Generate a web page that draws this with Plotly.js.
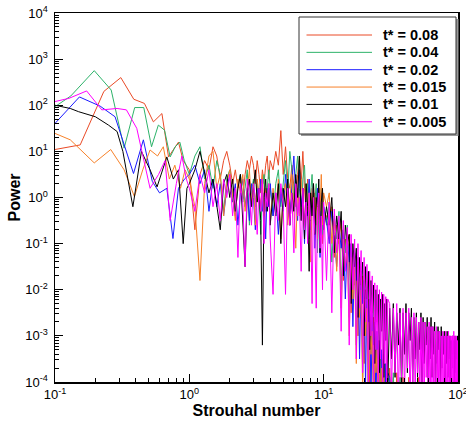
<!DOCTYPE html>
<html><head><meta charset="utf-8">
<script src="https://cdn.plot.ly/plotly-3.0.1.min.js"></script>
<style>html,body{margin:0;padding:0;background:#fff}#chart{width:466px;height:421px}</style>
</head><body><div id="chart"></div>
<script>
// ---- labels / colours ----
const seriesLabels = ["t* = 0.08", "t* = 0.04", "t* = 0.02", "t* = 0.015", "t* = 0.01", "t* = 0.005"];
const seriesColors = ["#ea4a26", "#2db36a", "#1a1aff", "#f7822a", "#000000", "#ff00ff"];
const xTickVals = [0.1, 1, 10, 100];
const xTickText = ["10<sup>-1</sup>", "10<sup>0</sup>", "10<sup>1</sup>", "10<sup>2</sup>"];
const yTickVals = [1e-4, 1e-3, 1e-2, 1e-1, 1, 10, 100, 1000, 10000];
const yTickText = ["10<sup>-4</sup>", "10<sup>-3</sup>", "10<sup>-2</sup>", "10<sup>-1</sup>", "10<sup>0</sup>", "10<sup>1</sup>", "10<sup>2</sup>", "10<sup>3</sup>", "10<sup>4</sup>"];

// ---- low-frequency part (Strouhal < 1), per series; power as log10 ----
const lowF_008 = [0.077,0.154,0.231,0.309,0.386,0.463,0.54,0.625,0.70,0.83,0.9];
const lowLogP_008 = [0.98,1.14,2.3,2.6,2.13,2.04,1.64,1.82,0.88,1.2,0.8];
const lowF_004 = [0.065,0.131,0.196,0.262,0.327,0.392,0.458,0.523,0.588,0.654,0.72,0.785,0.85,0.915];
const lowLogP_004 = [1.6,2.2,2.75,2.33,1.07,1.95,1.95,1.1,1.57,1.46,0.88,1.1,1.2,0.81];
const lowF_002 = [0.076,0.152,0.217,0.28,0.384,0.455,0.53,0.6,0.68,0.755,0.83,0.92];
const lowLogP_002 = [1.23,2.18,1.98,1.75,0.52,1.25,0.35,0.1,0.2,-0.89,0.2,0.4];
const lowF_0015 = [0.065,0.13,0.196,0.26,0.327,0.39,0.45,0.51,0.58,0.64,0.71,0.78,0.86,0.93];
const lowLogP_0015 = [1.62,1.25,0.75,1.04,0.6,0.02,0.6,1.03,0.9,1.1,0.4,0.7,0.2,0.6];
const lowF_001 = [0.1,0.13,0.15,0.2,0.25,0.29,0.32,0.38,0.44,0.51,0.575,0.68,0.76,0.83,0.9,0.96];
const lowLogP_001 = [2.0,1.93,1.86,1.75,1.57,1.43,1.0,-0.2,1.0,0.6,0.23,0.88,0.4,0.6,-1.0,0.2];
const lowF_0005 = [0.1,0.127,0.172,0.223,0.29,0.34,0.406,0.51,0.59,0.66,0.72,0.8,0.88,0.95];
const lowLogP_0005 = [2.08,2.15,2.31,1.9,1.93,1.9,1.5,0.2,0.5,0.8,-0.5,0.3,0.9,0.4];

// ---- shared frequency list for Strouhal >= 1 ----
const highF = [
1,1.1,1.2,1.3,1.4,1.5,1.6,1.7,1.8,1.9,2,2.1,2.2,2.3,2.4,2.5,2.6,2.7,2.8,2.9,3,3.1,3.2,3.3,3.4,3.5,3.6,3.7,3.8,3.9,4,
4.2,4.4,4.6,4.8,5,5.2,5.4,5.6,5.8,6,6.2,6.4,6.6,6.8,7,7.2,7.4,7.6,7.8,8,8.2,8.4,8.6,8.8,9,9.2,9.4,9.6,9.8,10,
10.5,11,11.5,12,12.5,13,13.5,14,14.5,15,15.5,16,16.5,17,17.5,18,18.5,19,19.5,20,20.5,21,21.5,22,22.5,23,23.5,24,24.5,25,25.5,26,26.5,27,27.5,28,28.5,29,29.5,30,
31,32,33,34,35,36,37,38,39,40,41,42,43,44,45,46,47,48,49,50,51,52,53,54,55,56,57,58,59,60,61,62,63,64,65,66,67,68,69,70,
71,72,73,74,75,76,77,78,79,80,81,82,83,84,85,86,87,88,89,90,91,92,93,94,95,96,97,98,99,100];

const highLogP_008 = [
0.6,-0.7,0.5,0.8,0.6,1.1,0.9,0.4,0.8,1.0, 0.7,0.3,0.6,0.2,0.5,0.0,0.5,0.8,0.6,0.9, 0.7,0.3,0.8,0.5,0.1,0.6,0.3,0.7,0.9,0.4, 0.8,
0.6,1.0,0.7,1.45,0.5,1.1,0.4,0.2,0.7,0.3, -0.2,0.5,0.9,0.3,1.0,0.2,-0.3,0.4,0.0,-0.5, 0.2,-0.4,0.1,-0.6,-0.1,0.2,-0.7,-0.2,-1.0,-0.3,
-0.4,-0.9,-0.2,-1.3,-0.6,-1.0,-0.5,-1.8,-0.9,-1.4, -0.8,-2.5,-1.2,-1.9,-1.3,-3.0,-1.5,-2.4,-1.7,-3.6, -2.0,-2.8,-2.2,-4.2,-2.4,-3.3,-2.6,-4.5,-2.9,-3.8, -3.1,-4.6,-3.3,-4.2,-3.5,-4.8,-3.6,-4.5,-3.8,-4.9,
-3.7,-4.6,-3.9,-4.8,-3.8,-4.5,-4.0,-4.9,-3.9,-4.6, -4.1,-4.8,-3.9,-4.5,-4.2,-5.0,-4.0,-4.7,-4.1,-4.9, -3.9,-4.6,-4.2,-4.8,-4.0,-4.5,-4.3,-5.0,-4.1,-4.7, -4.0,-4.9,-4.2,-4.6,-4.1,-4.8,-4.3,-5.0,-4.2,-4.7,
-4.1,-4.9,-4.3,-4.6,-4.2,-4.8,-4.4,-5.0,-4.2,-4.7, -4.3,-4.9,-4.1,-4.6,-4.4,-4.8,-4.2,-5.0,-4.3,-4.7, -4.4,-4.9,-4.2,-4.6,-4.5,-4.8,-4.3,-5.0,-4.4,-4.7];

const highLogP_004 = [
0.5,0.9,1.1,0.4,0.7,0.2,0.8,0.5,-0.3,0.4, 0.6,0.1,-0.4,0.3,0.5,-0.1,0.2,0.6,-0.6,0.1, 0.4,-0.2,0.3,0.0,-0.8,0.2,0.5,-0.3,0.1,0.6, 0.2,
-0.4,0.3,0.6,-0.2,0.4,0.8,0.1,1.0,0.6,-0.1, 0.5,0.9,0.2,-0.5,0.4,0.7,-0.2,0.3,-0.9,0.1, 0.5,-0.4,-0.1,0.3,-1.2,0.0,-0.3,0.2,-0.8,-0.2,
-0.6,-0.1,-1.4,-0.4,-0.9,-0.3,-2.0,-0.7,-1.2,-0.6, -2.6,-1.0,-1.6,-1.1,-3.2,-1.3,-2.1,-1.6,-3.9,-1.8, -2.6,-2.0,-4.3,-2.3,-3.0,-2.5,-4.5,-2.8,-3.5,-3.0, -4.7,-3.2,-4.0,-3.4,-4.8,-3.6,-4.3,-3.7,-4.9,-3.9,
-4.0,-4.7,-3.8,-4.9,-4.1,-4.5,-3.9,-4.8,-4.2,-4.6, -4.0,-5.0,-4.1,-4.6,-4.3,-4.8,-4.0,-4.7,-4.2,-4.9, -4.1,-4.5,-4.3,-4.8,-4.1,-4.6,-4.4,-5.0,-4.2,-4.7, -4.1,-4.8,-4.3,-4.6,-4.2,-4.9,-4.4,-5.0,-4.3,-4.7,
-4.2,-4.8,-4.4,-4.6,-4.3,-4.9,-4.5,-5.0,-4.3,-4.7, -4.4,-4.8,-4.2,-4.6,-4.5,-4.9,-4.3,-5.0,-4.4,-4.7, -4.5,-4.8,-4.3,-4.6,-4.6,-4.9,-4.4,-5.0,-4.5,-4.7];

const highLogP_002 = [
0.5,0.7,0.3,0.6,-0.3,0.4,-0.2,0.3,-0.4,0.2, 0.5,-0.1,0.3,-0.6,0.1,0.4,-0.2,0.2,-0.5,0.3, 0.0,-0.7,0.2,-0.1,0.4,-0.3,0.1,-0.9,0.2,-0.2, 0.3,
-0.4,0.1,-0.8,0.2,-0.3,0.5,-0.1,-0.6,0.3,0.9, 0.0,-0.5,0.6,-0.2,0.2,-1.0,0.1,-0.4,0.4,-0.7, -0.1,0.3,-1.1,-0.2,0.2,-0.5,-1.3,0.1,-0.6,-0.2,
-0.5,-1.0,-0.3,-0.8,-1.5,-0.6,-1.1,-0.7,-2.2,-0.9, -1.4,-1.0,-2.8,-1.2,-1.8,-1.4,-3.5,-1.6,-2.3,-1.8, -4.1,-2.0,-2.7,-2.2,-4.4,-2.5,-3.2,-2.7,-4.6,-2.9, -3.7,-3.1,-4.8,-3.3,-4.1,-3.4,-4.9,-3.6,-4.4,-3.8,
-3.9,-4.8,-4.0,-4.6,-4.2,-4.9,-4.1,-4.5,-4.3,-4.8, -4.0,-4.7,-4.2,-5.0,-4.1,-4.6,-4.3,-4.8,-4.2,-4.9, -4.0,-4.6,-4.4,-4.7,-4.2,-5.0,-4.3,-4.8,-4.1,-4.6, -4.3,-4.9,-4.2,-4.7,-4.4,-5.0,-4.3,-4.6,-4.2,-4.8,
-4.4,-4.9,-4.3,-4.7,-4.5,-5.0,-4.2,-4.6,-4.4,-4.8, -4.3,-4.9,-4.5,-4.7,-4.4,-5.0,-4.3,-4.6,-4.5,-4.8, -4.4,-4.9,-4.6,-4.7,-4.3,-5.0,-4.5,-4.6,-4.4,-4.8];

const highLogP_0015 = [
0.4,-0.2,-1.8,0.3,0.9,1.0,0.2,0.5,-0.4,0.3, 0.6,0.0,-0.5,0.4,0.1,0.5,-0.3,0.2,0.6,-0.1, 0.3,-0.6,0.4,0.1,-0.2,0.5,-0.4,0.2,-0.1,0.3, -0.5,
0.2,-0.3,0.4,-0.9,0.1,0.3,-0.6,0.0,0.5,-0.2, -1.1,0.2,-0.4,0.4,-0.1,-0.7,0.3,-0.3,0.1,-1.4, -0.2,0.3,-0.5,0.0,-0.9,0.2,-0.3,0.5,-0.6,0.1,
-0.2,0.1,-1.0,-0.5,-1.6,-0.6,-2.4,-0.9,-1.5,-1.1, -3.0,-1.3,-2.2,-1.5,-3.6,-1.8,-2.6,-2.0,-4.2,-2.2, -3.0,-2.4,-4.5,-2.7,-3.4,-2.9,-4.7,-3.1,-3.8,-3.3, -4.8,-3.5,-4.2,-3.7,-4.9,-3.8,-4.4,-4.0,-5.0,-4.1,
-4.2,-4.8,-4.0,-4.6,-4.3,-4.9,-4.1,-4.7,-4.4,-5.0, -4.2,-4.6,-4.3,-4.8,-4.1,-4.9,-4.4,-4.7,-4.2,-5.0, -4.3,-4.6,-4.5,-4.8,-4.2,-4.9,-4.4,-4.7,-4.3,-5.0, -4.4,-4.6,-4.2,-4.8,-4.5,-4.9,-4.3,-4.7,-4.4,-5.0,
-4.5,-4.6,-4.3,-4.8,-4.4,-4.9,-4.6,-4.7,-4.3,-5.0, -4.5,-4.6,-4.4,-4.8,-4.6,-4.9,-4.3,-4.7,-4.5,-5.0, -4.6,-4.6,-4.4,-4.8,-4.5,-4.9,-4.7,-4.7,-4.4,-5.0];

const highLogP_001 = [
0.3,0.6,1.0,0.5,0.1,0.4,-0.2,-0.7,0.3,0.5, 0.0,0.4,-0.3,0.2,0.5,-0.4,-1.5,0.1,0.4,-0.2, 0.3,0.6,-0.1,0.2,-0.5,-3.2,0.0,0.4,-0.3,0.2, -0.6,
0.1,-0.4,0.3,-1.0,0.2,-0.2,0.4,-0.6,0.1,-0.3, 0.5,0.0,0.9,-0.5,0.2,-0.9,0.3,-0.2,-1.6,0.1, -0.4,0.3,-0.8,0.0,-0.3,0.4,-1.2,-0.1,0.2,-0.7,
-0.2,-0.6,0.0,-1.2,-0.4,-0.9,-0.3,-1.7,-0.6,-1.0, -0.8,-2.3,-1.0,-1.5,-1.1,-2.6,-1.3,-1.9,-1.4,-3.0, -1.5,-2.2,-1.6,-3.3,-1.8,-2.5,-1.9,-3.6,-2.0,-2.7, -2.1,-3.8,-2.2,-2.9,-2.1,-3.9,-2.3,-3.1,-2.2,-4.1,
-2.4,-3.5,-2.3,-3.9,-2.5,-3.2,-2.4,-4.2,-2.5,-3.4, -2.3,-3.8,-2.5,-3.1,-2.4,-4.0,-2.6,-3.5,-2.5,-3.9, -2.7,-3.3,-2.5,-4.3,-2.6,-3.6,-2.7,-3.2,-2.6,-4.1, -2.8,-3.5,-2.6,-3.9,-2.8,-3.4,-2.7,-4.4,-2.9,-3.6,
-2.8,-3.3,-2.9,-4.0,-2.8,-3.7,-3.0,-3.4,-2.9,-4.2, -3.0,-3.6,-2.9,-3.9,-3.1,-3.5,-3.0,-4.5,-3.1,-3.7, -3.0,-3.4,-3.1,-4.1,-3.0,-3.8,-3.1,-3.5,-3.0,-4.3];

const highLogP_0005 = [
0.2,-0.3,0.5,0.1,0.6,-0.2,0.3,-0.5,0.4,0.0, 0.5,-0.4,0.2,-1.3,0.3,-0.1,-1.5,0.4,0.1,-0.6, 0.3,0.0,-0.8,0.2,-0.3,0.4,-1.0,0.1,-0.2,0.3, -0.9,
-2.1,0.1,-0.5,0.3,-0.2,-2.1,0.2,-0.6,0.1,-1.2, 0.3,-0.4,0.0,-1.6,0.2,-0.7,-0.1,-1.0,0.1,-0.5, -2.3,0.0,-0.8,-2.4,-0.2,0.1,-1.1,-0.4,-2.0,-0.1,
-1.8,-0.1,-2.5,-0.25,-1.2,-0.4,-2.9,-0.5,-1.6,-0.65, -3.2,-0.8,-2.0,-0.9,-3.5,-1.0,-2.4,-1.15,-3.8,-1.3, -2.7,-1.45,-4.1,-1.6,-3.0,-1.7,-4.3,-1.85,-3.3,-1.9, -4.2,-2.0,-3.5,-2.05,-4.4,-2.1,-3.6,-2.15,-4.5,-2.2,
-2.3,-4.2,-2.4,-3.8,-2.3,-4.5,-2.5,-3.9,-2.4,-4.3, -2.5,-3.7,-2.4,-4.6,-2.6,-4.0,-2.5,-4.4,-2.6,-3.8, -2.7,-4.5,-2.6,-4.1,-2.7,-4.6,-2.7,-3.9,-2.8,-4.3, -2.7,-4.7,-2.8,-4.0,-2.8,-4.4,-2.9,-4.6,-2.8,-4.1,
-2.9,-4.5,-2.9,-4.8,-3.0,-4.2,-2.9,-4.6,-3.0,-4.3, -2.9,-4.7,-3.0,-4.2,-2.9,-4.5,-3.0,-4.8,-3.0,-4.4, -3.0,-4.6,-2.9,-4.9,-3.0,-4.3,-3.0,-4.7,-3.1,-4.5];

const lowF = [lowF_008, lowF_004, lowF_002, lowF_0015, lowF_001, lowF_0005];
const lowLogP = [lowLogP_008, lowLogP_004, lowLogP_002, lowLogP_0015, lowLogP_001, lowLogP_0005];
const highLogP = [highLogP_008, highLogP_004, highLogP_002, highLogP_0015, highLogP_001, highLogP_0005];

const traces = seriesLabels.map((name, i) => ({
  type: 'scatter', mode: 'lines', name: name,
  x: lowF[i].concat(highF),
  y: lowLogP[i].concat(highLogP[i]).map(v => Math.pow(10, v)),
  line: {color: seriesColors[i], width: 1},
  showlegend: false, hoverinfo: 'skip'
}));

// plot-area pixel helpers for the hand-made legend box
const L = 55, R = 458, T = 13, B = 382;
const px = x => (x - L) / (R - L);
const py = y => (B - y) / (B - T);

const shapes = [
  {type: 'rect', xref: 'paper', yref: 'paper', x0: px(301), x1: px(458.5), y0: py(136), y1: py(19), fillcolor: '#9a9a9a', line: {width: 0}},
  {type: 'rect', xref: 'paper', yref: 'paper', x0: px(299), x1: px(456), y0: py(134), y1: py(17), fillcolor: '#ffffff', line: {color: '#333333', width: 1}}
];
const annotations = [];
seriesLabels.forEach((lab, i) => {
  const yy = 35 + i * 17.35;
  shapes.push({type: 'line', xref: 'paper', yref: 'paper', x0: px(306.5), x1: px(372), y0: py(yy), y1: py(yy), line: {color: seriesColors[i], width: 1}});
  annotations.push({xref: 'paper', yref: 'paper', x: px(380.5), y: py(yy), xanchor: 'left', yanchor: 'middle', showarrow: false,
    text: lab, font: {family: 'Arial, Liberation Sans, sans-serif', size: 14.5, color: '#000', weight: 'bold'}});
});

function minorVals(lo, hi) {
  const out = [];
  for (let e = lo; e < hi; e++) for (let m = 2; m <= 9; m++) out.push(m * Math.pow(10, e));
  return out;
}

const axisFont = {family: 'Arial, Liberation Sans, sans-serif', size: 13, color: '#000'};
const titleFont = {family: 'Arial, Liberation Sans, sans-serif', size: 16, color: '#000', weight: 'bold'};

const layout = {
  width: 466, height: 421,
  margin: {l: L, r: 466 - R, t: T, b: 421 - B, pad: 0},
  paper_bgcolor: '#fff', plot_bgcolor: '#fff',
  showlegend: false,
  xaxis: {
    type: 'log', range: [-1, 2], tickmode: 'array', tickvals: xTickVals, ticktext: xTickText,
    ticks: 'inside', ticklen: 8, tickwidth: 1, tickcolor: '#000', ticklabeloverflow: 'allow',
    minor: {ticks: 'inside', ticklen: 4, tickwidth: 1, tickcolor: '#000', tickmode: 'array', tickvals: minorVals(-1, 2), showgrid: false},
    showline: true, linecolor: '#000', linewidth: 1.5, mirror: true,
    showgrid: false, zeroline: false, tickfont: axisFont, automargin: false,
    title: {text: 'Strouhal number', font: titleFont, standoff: 3}
  },
  yaxis: {
    type: 'log', range: [-4, 4], tickmode: 'array', tickvals: yTickVals, ticktext: yTickText,
    ticks: 'inside', ticklen: 8, tickwidth: 1, tickcolor: '#000', ticklabeloverflow: 'allow',
    minor: {ticks: 'inside', ticklen: 4, tickwidth: 1, tickcolor: '#000', tickmode: 'array', tickvals: minorVals(-4, 4), showgrid: false},
    showline: true, linecolor: '#000', linewidth: 1.5, mirror: true,
    showgrid: false, zeroline: false, tickfont: axisFont, automargin: false, ticklabelstandoff: 3,
    title: {text: 'Power', font: titleFont, standoff: 0}
  },
  shapes: shapes,
  annotations: annotations
};

Plotly.newPlot('chart', traces, layout, {staticPlot: true, displayModeBar: false});
</script>
</body></html>
